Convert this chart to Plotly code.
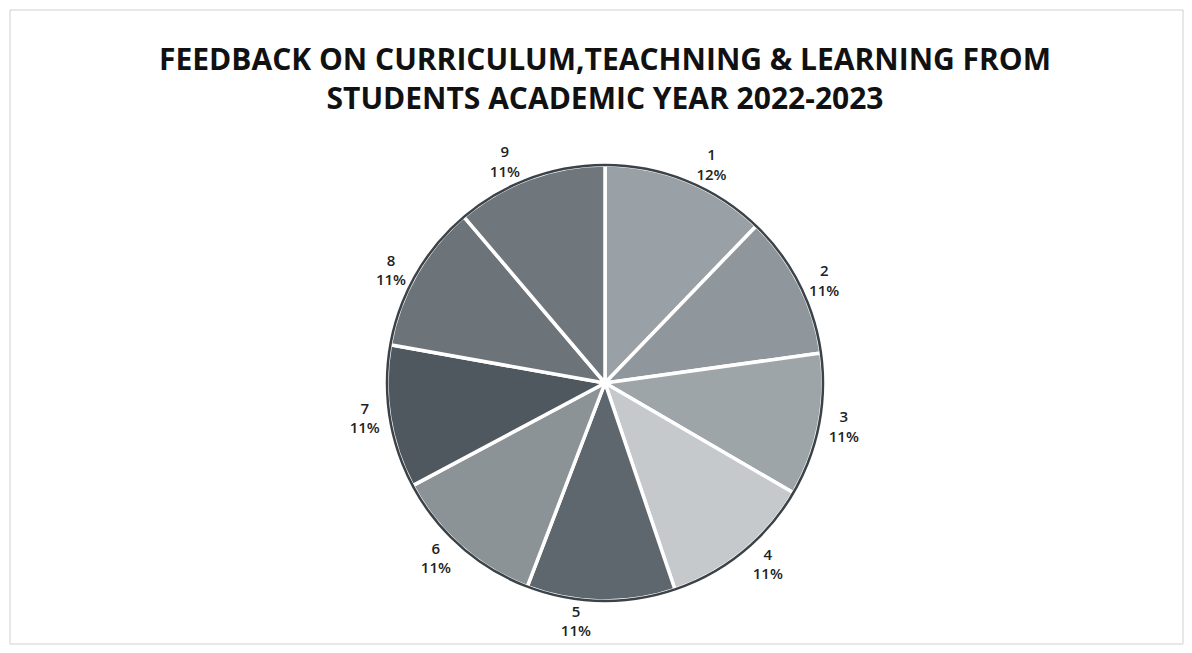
import plotly.graph_objects as go

labels = ["1", "2", "3", "4", "5", "6", "7", "8", "9"]
values = [12.2, 10.6, 10.6, 11.4, 11.0, 11.4, 10.6, 11.0, 11.2]
colors = ["#9aa1a6", "#8f979c", "#9ea5a8", "#c5c9cc", "#5e676d",
          "#8c9397", "#4f585e", "#6c747a", "#6f777c"]

OFF = 8  # page body margin
W, H = 1192 - 2 * OFF, 653 - 2 * OFF
cx, cy, r = 605 - OFF, 383 - OFF, 218
x0, x1 = (cx - r) / W, (cx + r) / W
y0, y1 = 1 - (cy + r) / H, 1 - (cy - r) / H

fig = go.Figure(go.Pie(
    labels=labels,
    values=values,
    sort=False,
    direction="clockwise",
    rotation=0,
    marker=dict(colors=colors, line=dict(color="white", width=3.5)),
    textposition="outside",
    texttemplate="%{label}<br>%{percent:.0%}",
    textfont=dict(family="Open Sans", size=15, color="#222222", weight=600),
    domain=dict(x=[x0, x1], y=[y0, y1]),
    showlegend=False,
    automargin=False,
))

fig.add_shape(type="circle", xref="paper", yref="paper",
              x0=x0, x1=x1, y0=y0, y1=y1,
              line=dict(color="#3b4349", width=2.5), layer="above")
fig.add_shape(type="rect", xref="paper", yref="paper",
              x0=(10 - OFF) / W, x1=(W - 1) / W, y0=1 / H, y1=1 - (10 - OFF) / H,
              line=dict(color="#d0d0d0", width=1), layer="below")

fig.update_layout(
    width=W, height=H,
    margin=dict(l=0, r=0, t=0, b=0),
    paper_bgcolor="white",
    plot_bgcolor="white",
    title=dict(
        text="<b>FEEDBACK ON CURRICULUM,TEACHNING & LEARNING FROM<br>STUDENTS ACADEMIC YEAR 2022-2023</b>",
        x=(605 - OFF) / W, xanchor="center", y=1 - (70 - OFF) / H, yanchor="middle",
        font=dict(family="Open Sans", size=30, color="#111111"),
    ),
)

fig.write_html("out.html")
